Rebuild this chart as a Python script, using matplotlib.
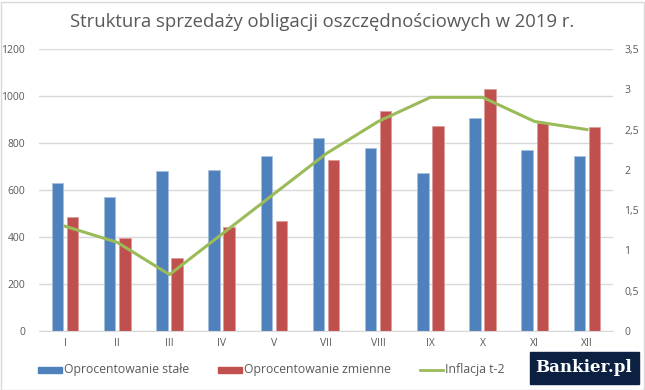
import matplotlib
matplotlib.use("Agg")
import matplotlib.pyplot as plt
import numpy as np
from matplotlib.patches import Rectangle
from matplotlib.lines import Line2D

months = ["I", "II", "III", "IV", "V", "VII", "VIII", "IX", "X", "XI", "XII"]
stale = [630, 570, 679, 685, 745, 821, 777, 674, 906, 770, 743]
zmienne = [485, 394, 311, 443, 468, 728, 936, 872, 1030, 885, 868]
inflacja = [1.3, 1.1, 0.7, 1.2, 1.7, 2.2, 2.6, 2.9, 2.9, 2.6, 2.5]

blue = "#4f81bd"
red = "#c0504d"
green = "#9bbb59"
tick_col = "#595959"
grid_col = "#d9d9d9"

plt.rcParams['font.family'] = ['Open Sans', 'DejaVu Sans']

fig = plt.figure(figsize=(6.45, 3.9), dpi=100)
ax = fig.add_axes([39/645, 1-331/390, (613-39)/645, (331-49)/390])
ax2 = ax.twinx()

x = np.arange(len(months))
w = 0.22
off = 0.145
ax.bar(x - off, stale, w, color=blue, edgecolor="#a7c0de", linewidth=0.5, zorder=2)
ax.bar(x + off, zmienne, w, color=red, edgecolor="#dc9a98", linewidth=0.5, zorder=2)
ax2.plot(x, inflacja, color=green, lw=2.2, zorder=3)

ax.set_xlim(-0.5, len(months) - 0.5)
ax.set_ylim(0, 1200)
ax.set_yticks(np.arange(0, 1201, 200))
ax2.set_ylim(0, 3.5)
ax2.set_yticks(np.arange(0, 3.51, 0.5))
ax2.set_yticklabels([("%g" % v).replace(".", ",") for v in np.arange(0, 3.51, 0.5)])
ax.set_xticks(x)
ax.set_xticklabels(months)

ax.grid(axis="y", color=grid_col, lw=1, zorder=0)
ax.set_axisbelow(True)
for a in (ax, ax2):
    for s in a.spines.values():
        s.set_visible(False)
    a.tick_params(length=0, colors=tick_col, labelsize=7.5)
ax.spines["bottom"].set_visible(True)
ax.spines["bottom"].set_color(grid_col)
ax.tick_params(axis="y", pad=10)
ax2.tick_params(axis="y", pad=8)
ax.tick_params(axis="x", pad=5)

fig.text(0.5, 1-22/390, "Struktura sprzedaży obligacji oszczędnościowych w 2019 r.",
         ha="center", va="center", fontsize=13.3, color="#595959")

# legend
ly = 1 - 370/390
def patch(x0, c):
    fig.patches.append(Rectangle((x0/645, 1-373/390), 24/645, 6/390, transform=fig.transFigure,
                                 color=c, zorder=5))
patch(38, blue)
fig.text(64/645, ly, "Oprocentowanie stałe", fontsize=8.8, color=tick_col, va="center")
patch(218, red)
fig.text(244/645, ly, "Oprocentowanie zmienne", fontsize=8.8, color=tick_col, va="center")
fig.lines.append(Line2D([420/645, 443/645], [ly, ly], transform=fig.transFigure, color=green, lw=2))
fig.text(445/645, ly, "Inflacja t-2", fontsize=8.8, color=tick_col, va="center")

# logo
fig.patches.append(Rectangle((530/645, 1-384/390), 109/645, 32/390, transform=fig.transFigure,
                             color="#0c2142", zorder=5))
fig.text(584/645, 1-368/390, "Bankier.pl", fontsize=12, color="white", weight="bold",
         family="DejaVu Serif", ha="center", va="center", zorder=6)

# border
fig.patches.append(Rectangle((0.5/645, 0.5/390), 643/645, 388/390, transform=fig.transFigure,
                             fill=False, edgecolor="#d9d9d9", lw=1))

fig.savefig("out.png", dpi=100, facecolor="white")
